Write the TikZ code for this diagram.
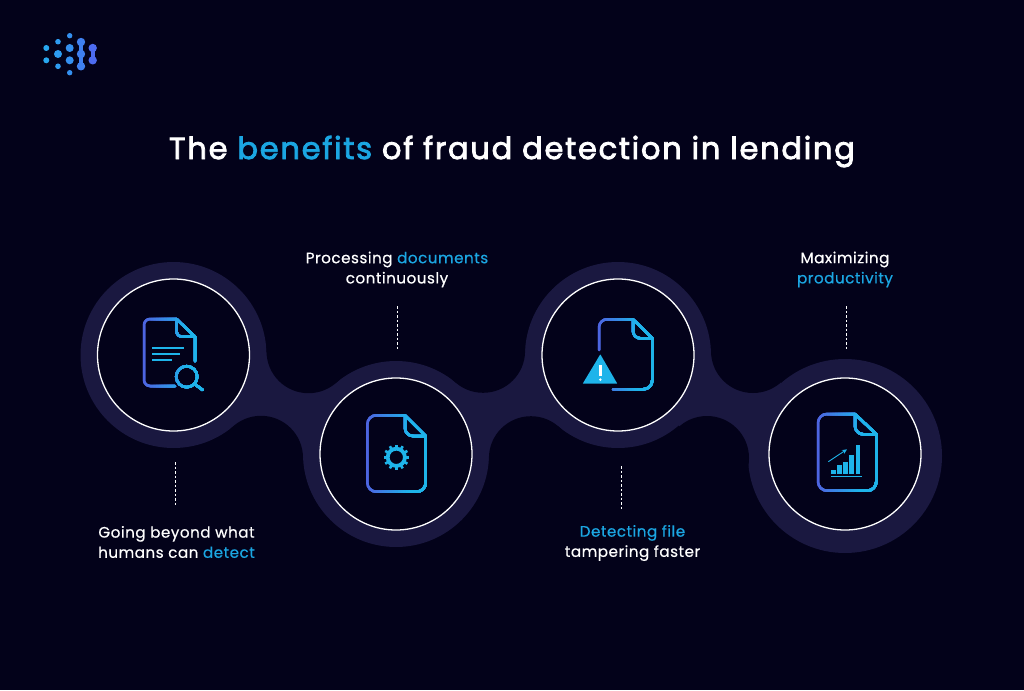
\documentclass[tikz,border=0pt]{standalone}
\usepackage{fontspec}
\usetikzlibrary{calc,arrows.meta}
\setmainfont{Poppins}
\newfontfamily\titlefont[LetterSpace=5.7,FakeBold=2.6]{Poppins}
\newfontfamily\labelfont[LetterSpace=3.2,FakeBold=0.5]{Poppins}
\definecolor{bgc}{HTML}{03021A}
\definecolor{halo}{HTML}{1A1840}
\definecolor{accent}{HTML}{1BA6E2}
\definecolor{gradL}{HTML}{5060E0}
\definecolor{gradR}{HTML}{1EB4EA}
\tikzset{
  ring/.style={circle,draw=white,line width=1.3pt,fill=bgc,minimum size=152pt,inner sep=0pt},
  halodisc/.style={fill=halo},
  hollow/.style={fill=bgc},
  lbl/.style={font=\labelfont\fontsize{15.2}{20.2}\selectfont,text=white,align=center,inner sep=0pt},
  ttl/.style={font=\titlefont\fontsize{30.5}{38}\selectfont,text=white,inner sep=0pt},
  dashline/.style={draw=white,line width=0.8pt,dash pattern=on 2.5pt off 2pt},
  iconline/.style={line width=2.5pt,line cap=round,line join=round},
  textline/.style={gradR,line width=2pt},
}
\newcommand{\acc}[1]{\textcolor{accent}{#1}}
% horizontal gradient stroke: #1 x-left, #2 x-right, #3 path
\newcommand{\gradstroke}[3]{%
  \foreach \gi in {0,...,24}{%
    \pgfmathsetmacro{\gx}{#1-4+(#2-#1+8)*\gi/25}%
    \pgfmathtruncatemacro{\gp}{max(0,100-6*\gi)}%
    \begin{scope}
      \clip (\gx,250) rectangle (1000,550);
      \draw[iconline,color=gradL!\gp!gradR] #3;
    \end{scope}%
  }%
}
\begin{document}
\begin{tikzpicture}[x=1pt,y=-1pt]
\useasboundingbox (0,0) rectangle (1024,690);
\fill[bgc] (0,0) rectangle (1024,690);
% logo
\foreach \x/\y/\r/\c in {46.3/48/3/28A8F0,46.3/60.3/3/28A8F0,58/41.7/2.8/2E9CF0,58/54/4/2E9CF0,58/66.3/2.8/2E9CF0,69.7/35.7/2.7/3490F0,69.7/48/4/3490F0,69.7/60.3/4/3490F0,69.7/72.7/2.7/3490F0}{
  \definecolor{tmpc}{HTML}{\c}\fill[tmpc] (\x,\y) circle (\r);}
\definecolor{logoA}{HTML}{3F80F0}\definecolor{logoB}{HTML}{4D6CF0}
\draw[logoA,line width=4.4pt,line cap=round] (81,42)--(81,66.3);
\foreach \y in {42,54,66.3}{\fill[logoA] (81,\y) circle (4.2);}
\draw[logoB,line width=4.4pt,line cap=round] (92.7,48)--(92.7,60.3);
\foreach \y in {48,60.3}{\fill[logoB] (92.7,\y) circle (4.2);}
% title
\node[ttl] (title) at (512,151.5) {The \acc{benefits} of fraud detection in lending};
% halo band
\fill[halodisc] (173.5,355) -- (308.5,351.2) -- (396,454) -- (261,457.8) -- cycle;
\fill[halodisc] (396,454) -- (483.1,350.8) -- (618,355) -- (530.9,458.2) -- cycle;
\fill[halodisc] (618,355) -- (753,351) -- (845,456) -- (707,458) -- cycle;
\foreach \p/\r in {(173.5,355)/93,(396,454)/93,(618,355)/93,(845,456)/97}{\fill[halodisc] \p circle (\r);}
\foreach \p in {(308.5,351.2),(261,457.8),(483.1,350.8),(530.9,458.2),(753,351),(707,458)}{\fill[hollow] \p circle (42);}
% rings
\node[ring] (c1) at (173.5,355) {};
\node[ring] (c2) at (396,454) {};
\node[ring] (c3) at (618,355) {};
\node[ring] (c4) at (845,454) {};
% icon 1
\gradstroke{144}{203}{(176.5,319) -- (150,319) arc[start angle=270,end angle=180,radius=6] -- (144,380) arc[start angle=180,end angle=90,radius=6] -- (175,386)
 (195,361) -- (195,336.7) -- (176.5,319) -- (176.5,331) arc[start angle=180,end angle=90,radius=5.7] -- (195,336.7)
 (186.7,376.7) circle (10.5) (194.5,384) -- (202.7,390)}
\draw[textline] (152,348) -- (183.5,348) (152,354) -- (180,354) (152,359.5) -- (172,359.5);
% icon 2
\gradstroke{367}{426}{(405,415.3) -- (376.3,415.3) arc[start angle=270,end angle=180,radius=9] -- (367.3,482.7) arc[start angle=180,end angle=90,radius=9] -- (416.7,491.7) arc[start angle=90,end angle=0,radius=9] -- (425.7,436) -- (405,415.3) -- (405,428) arc[start angle=180,end angle=90,radius=8] -- (425.7,436)}
\draw[gradR,line width=3.8pt] (396.3,457.3) circle (8.6);
\foreach \a in {0,30,...,330}{\draw[gradR,line width=2.6pt] ($(396.3,457.3)+(\a:9)$) -- ($(396.3,457.3)+(\a:12.8)$);}
% icon 3
\gradstroke{599}{652}{(599,350) -- (599,327.3) arc[start angle=180,end angle=270,radius=8] -- (633,319.3) -- (652.3,338.3) -- (652.3,380.3) arc[start angle=0,end angle=90,radius=9] -- (613,389.3)
 (633,319.3) -- (633,331) arc[start angle=180,end angle=90,radius=7.3] -- (652.3,338.3)}
\fill[gradR,rounded corners=0.5pt] (600.3,354.3) -- (617.3,383.7) -- (582.7,383.7) -- cycle;
\draw[white,line width=2.4pt] (600.3,365) -- (600.3,375.5);
\fill[white] (600.3,379.6) circle (1.4);
% icon 4
\gradstroke{818}{876}{(855,414) -- (827,414) arc[start angle=270,end angle=180,radius=9] -- (818,481.7) arc[start angle=180,end angle=90,radius=9] -- (867.3,490.7) arc[start angle=90,end angle=0,radius=9] -- (876.3,434.3) -- (855,414) -- (855,426) arc[start angle=180,end angle=90,radius=8.3] -- (876.3,434.3)}
\foreach \xa/\t in {831/470,837.3/465,843.4/461.7,849.4/455,855.7/445}{\fill[gradR] (\xa,\t) rectangle (\xa+4.5,473.5);}
\draw[gradR,line width=1pt] (831,476.3) -- (862,476.3);
\draw[gradR,line width=0.9pt,-{Stealth[length=5pt,width=4.5pt]}] (828.3,461.7) -- (847,449.3);
% labels
\node[lbl] (t1) at (176.5,542) {Going beyond what\\humans can \acc{detect}};
\node[lbl] (t2) at (397,269.5) {Processing \acc{documents}\\continuously};
\node[lbl] (t3) at (632.5,543) {\acc{Detecting file}\\tampering faster};
\node[lbl] (t4) at (845,269.5) {Maximizing\\\acc{productivity}};
% dashed connectors
\coordinate (d1a) at (175,462); \coordinate (d1b) at (175,506);
\coordinate (d2a) at (397,306); \coordinate (d2b) at (397,349);
\coordinate (d3a) at (621,466); \coordinate (d3b) at (621,510);
\coordinate (d4a) at (846,306); \coordinate (d4b) at (846,349);
\draw[dashline] (d1a) -- (d1b);
\draw[dashline] (d2a) -- (d2b);
\draw[dashline] (d3a) -- (d3b);
\draw[dashline] (d4a) -- (d4b);
\end{tikzpicture}
\end{document}
